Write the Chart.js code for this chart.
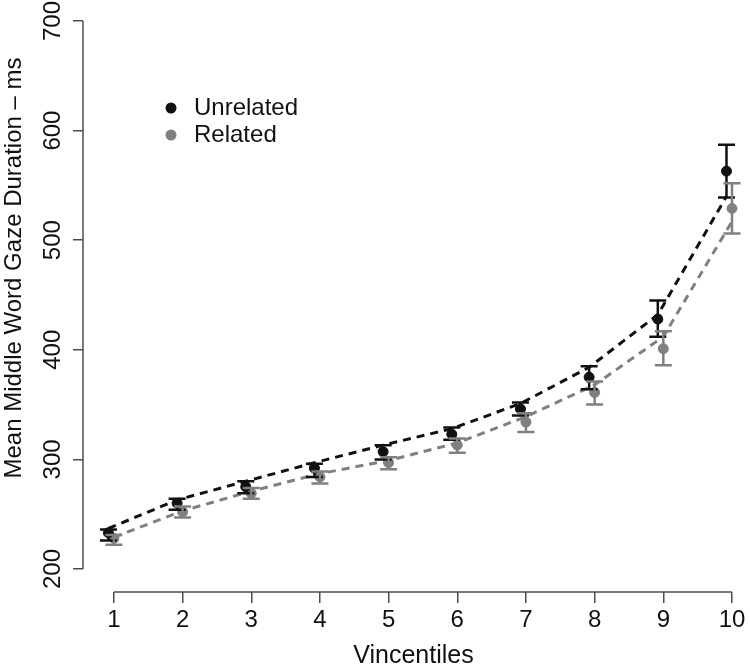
<!DOCTYPE html>
<html>
<head>
<meta charset="utf-8">
<script src="https://cdn.jsdelivr.net/npm/chart.js@4.4.1/dist/chart.umd.min.js"></script>
<style>
  html, body { margin: 0; padding: 0; background: #fff; }
</style>
</head>
<body>
<canvas id="chartVincentiles" width="750" height="671"></canvas>
<script>
// values (ms)
const vincentiles = [1, 2, 3, 4, 5, 6, 7, 8, 9, 10];
const yTicks = [200, 300, 400, 500, 600, 700];

const unrelatedMean = [233, 260, 275, 292, 307, 323, 346, 375, 428, 563];
const unrelatedLow  = [226, 254, 269, 284, 300, 318, 340, 364, 412, 539];
const unrelatedHigh = [236, 264, 280, 296, 313, 329, 352, 385, 445, 587];
const unrelatedFit  = [237, 263, 280, 297, 313, 328, 351, 384, 432, 540];

const relatedMean = [228, 252, 269, 284, 297, 313, 334, 361, 401, 529];
const relatedLow  = [222, 247, 264, 278, 291, 306, 325, 350, 386, 506];
const relatedHigh = [231, 257, 274, 289, 302, 319, 342, 371, 417, 552];
const relatedFit  = [229, 253, 271, 287, 299, 315, 339, 368, 412, 517];

const unrelatedShift = -0.08;
const unrelatedColor = "#111111";
const relatedColor = "#808080";
const axisColor = "#4d4d4d";
const fontFamily = "'Liberation Sans', Arial, sans-serif";

function toPoints(values, shift) {
    return values.map((v, i) => ({ x: vincentiles[i] + shift, y: v }));
}

// error bars with caps, placed through the chart scales
const errorBars = {
    id: "errorBars",
    afterDatasetsDraw(chart) {
        const { ctx, scales: { x, y } } = chart;
        const groups = [
            { low: unrelatedLow, high: unrelatedHigh, shift: unrelatedShift, color: unrelatedColor },
            { low: relatedLow, high: relatedHigh, shift: 0, color: relatedColor }
        ];
        ctx.save();
        ctx.lineWidth = 2.5;
        groups.forEach(g => {
            ctx.strokeStyle = g.color;
            vincentiles.forEach((v, i) => {
                const px = x.getPixelForValue(v + g.shift);
                const top = y.getPixelForValue(g.high[i]);
                const bot = y.getPixelForValue(g.low[i]);
                ctx.beginPath();
                ctx.moveTo(px, top); ctx.lineTo(px, bot);
                ctx.moveTo(px - 8.5, top); ctx.lineTo(px + 8.5, top);
                ctx.moveTo(px - 8.5, bot); ctx.lineTo(px + 8.5, bot);
                ctx.stroke();
            });
        });
        ctx.restore();
    }
};

// R style axis lines: only from first to last tick
const axisLines = {
    id: "axisLines",
    afterDraw(chart) {
        const { ctx, scales: { x, y } } = chart;
        ctx.save();
        ctx.strokeStyle = axisColor;
        ctx.lineWidth = 1.5;
        ctx.beginPath();
        ctx.moveTo(x.left, y.getPixelForValue(yTicks[0]));
        ctx.lineTo(x.left, y.getPixelForValue(yTicks[yTicks.length - 1]));
        ctx.moveTo(x.getPixelForValue(vincentiles[0]), y.bottom);
        ctx.lineTo(x.getPixelForValue(vincentiles[vincentiles.length - 1]), y.bottom);
        ctx.stroke();

        // y title, centred a bit above the middle like the original
        ctx.fillStyle = "#111";
        ctx.font = "24px " + fontFamily;
        ctx.textAlign = "center";
        ctx.textBaseline = "middle";
        ctx.translate(14, 268);
        ctx.rotate(-Math.PI / 2);
        ctx.fillText("Mean Middle Word Gaze Duration \u2013 ms", 0, 0);
        ctx.restore();
    }
};

// legend inside the plot, top left
const insideLegend = {
    id: "insideLegend",
    afterDraw(chart) {
        const { ctx } = chart;
        const rows = [chart.data.datasets[0], chart.data.datasets[1]];
        ctx.save();
        ctx.font = "24px " + fontFamily;
        ctx.textBaseline = "middle";
        rows.forEach((ds, i) => {
            const cy = 108 + i * 27;
            ctx.fillStyle = ds.backgroundColor;
            ctx.beginPath();
            ctx.arc(171, cy, 5.5, 0, Math.PI * 2);
            ctx.fill();
            ctx.fillStyle = "#111";
            ctx.fillText(ds.label, 194, cy);
        });
        ctx.restore();
    }
};

const ctx = document.getElementById("chartVincentiles").getContext("2d");
Chart.defaults.font.family = fontFamily;
Chart.defaults.font.size = 24;
Chart.defaults.color = "#111";

new Chart(ctx, {
    type: "scatter",
    data: {
        datasets: [
            {
                label: "Unrelated",
                data: toPoints(unrelatedMean, unrelatedShift),
                backgroundColor: unrelatedColor,
                borderColor: unrelatedColor,
                pointRadius: 5,
                showLine: false
            },
            {
                label: "Related",
                data: toPoints(relatedMean, 0),
                backgroundColor: relatedColor,
                borderColor: relatedColor,
                pointRadius: 5,
                showLine: false
            },
            {
                label: "Unrelated fit",
                data: toPoints(unrelatedFit, unrelatedShift),
                borderColor: unrelatedColor,
                borderWidth: 3,
                borderDash: [8, 6],
                pointRadius: 0,
                showLine: true
            },
            {
                label: "Related fit",
                data: toPoints(relatedFit, 0),
                borderColor: relatedColor,
                borderWidth: 3,
                borderDash: [8, 6],
                pointRadius: 0,
                showLine: true
            }
        ]
    },
    options: {
        responsive: false,
        animation: false,
        layout: { padding: { top: 21, right: 4, left: 0, bottom: 0 } },
        plugins: {
            legend: { display: false },
            tooltip: { enabled: false }
        },
        scales: {
            x: {
                type: "linear",
                min: 0.55,
                max: 10.175,
                afterBuildTicks: s => { s.ticks = vincentiles.map(v => ({ value: v })); },
                afterFit: s => { s.height = 79; },
                grid: { drawOnChartArea: false, tickLength: 11, color: axisColor, lineWidth: 1.5 },
                border: { display: false },
                ticks: { padding: 3, color: "#111", maxRotation: 0 },
                title: { display: true, text: "Vincentiles", color: "#111", font: { size: 25 }, padding: { top: 0, bottom: 0 } }
            },
            y: {
                type: "linear",
                min: 179,
                max: 700,
                afterBuildTicks: s => { s.ticks = yTicks.map(v => ({ value: v })); },
                afterFit: s => { s.width = 83; },
                grid: { drawOnChartArea: false, tickLength: 10, color: axisColor, lineWidth: 1.5 },
                border: { display: false },
                ticks: { padding: 0, color: "#111", minRotation: 90, maxRotation: 90, crossAlign: "center" }
            }
        }
    },
    plugins: [errorBars, axisLines, insideLegend]
});
</script>
</body>
</html>
